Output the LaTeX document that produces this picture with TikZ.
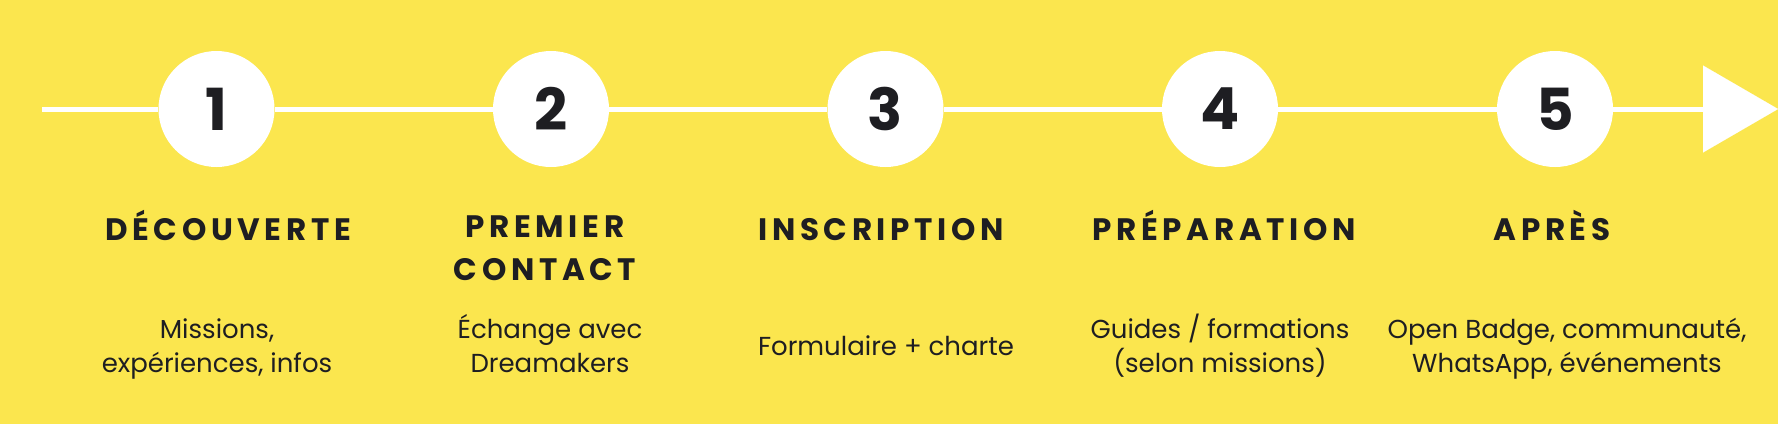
\documentclass[tikz,border=0pt]{standalone}
\usepackage{fontspec}
\usepackage{xcolor}
\setmainfont{Poppins}
\newfontfamily\headfont{Poppins}[LetterSpace=15]
\usetikzlibrary{positioning,arrows.meta}

\definecolor{bgyellow}{HTML}{FBE64E}
\definecolor{inkdark}{HTML}{1E1E22}

\tikzset{
  stepdot/.style={circle, fill=white, minimum size=116pt, inner sep=0pt,
    font=\fontsize{58}{58}\selectfont\bfseries, text=inkdark},
  headtxt/.style={anchor=base, align=center, text=inkdark,
    font=\headfont\fontsize{31}{43}\selectfont\bfseries},
  desctxt/.style={anchor=base, align=center, text=inkdark,
    font=\fontsize{26}{34}\selectfont},
  timeline/.style={white, line width=5pt},
}

\begin{document}
\begin{tikzpicture}[x=1pt, y=-1pt]
    % background
    \useasboundingbox (0,0) rectangle (1778,424);
    \fill[bgyellow] (0,0) rectangle (1778,424);

    % Step circles
    \foreach \n/\cx in {1/216.5, 2/551, 3/885.5, 4/1220, 5/1555} {
        \node[stepdot] (s\n) at (\cx,109) {\n};
    }

    % Timeline
    \coordinate (start) at (42,109);
    \coordinate (tip) at (1778,109);
    \draw[timeline] (start) -- (s1);
    \foreach \a/\b in {1/2, 2/3, 3/4, 4/5} {
        \draw[timeline] (s\a) -- (s\b);
    }
    \draw[timeline, -{Triangle[length=75pt, width=87pt, line width=0.01pt]}] (s5) -- (tip);

    % Step titles (base = last line)
    \node[headtxt] (h1) at (228,240) {DÉCOUVERTE};
    \node[headtxt] (h2) at (545,280) {PREMIER\\CONTACT};
    \node[headtxt] (h3) at (881,240) {INSCRIPTION};
    \node[headtxt] (h4) at (1224,240) {PRÉPARATION};
    \node[headtxt] (h5) at (1552,240) {APRÈS};

    % Step descriptions (base = last line)
    \node[desctxt] (d1) at (217,372) {Missions,\\expériences, infos};
    \node[desctxt] (d2) at (550,372) {Échange avec\\Dreamakers};
    \node[desctxt] (d3) at (886,355) {Formulaire + charte};
    \node[desctxt] (d4) at (1220,372) {Guides / formations\\(selon missions)};
    \node[desctxt] (d5) at (1567,372) {Open Badge, communauté,\\WhatsApp, événements};
\end{tikzpicture}
\end{document}
